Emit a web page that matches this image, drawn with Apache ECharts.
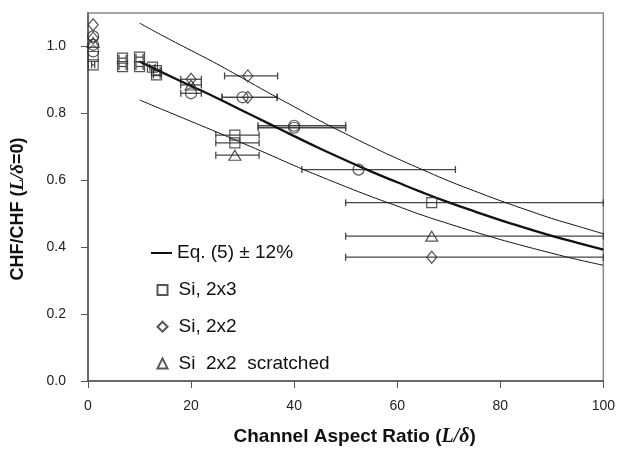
<!DOCTYPE html>
<html>
<head>
<meta charset="utf-8">
<script src="https://cdn.jsdelivr.net/npm/echarts@6/dist/echarts.min.js"></script>
<style>
  html, body { margin: 0; padding: 0; background: #fff; }
  #chart { width: 618px; height: 452px; }
</style>
</head>
<body>
<div id="chart"></div>
<script>
// Eq. (5) prediction and its ±12% band, sampled along L/δ
const curveX     = [10, 15, 20, 25, 30, 35, 40, 45, 50, 55, 60, 65, 70, 75, 80, 85, 90, 95, 100];
const eq5        = [0.955, 0.918, 0.882, 0.846, 0.808, 0.770, 0.732, 0.695, 0.660, 0.626, 0.594, 0.563, 0.534, 0.507, 0.481, 0.457, 0.434, 0.413, 0.393];
const eq5Upper   = [1.070, 1.028, 0.988, 0.948, 0.905, 0.862, 0.820, 0.778, 0.739, 0.701, 0.665, 0.631, 0.598, 0.568, 0.539, 0.512, 0.486, 0.463, 0.440];
const eq5Lower   = [0.840, 0.808, 0.776, 0.744, 0.711, 0.678, 0.644, 0.612, 0.581, 0.551, 0.523, 0.495, 0.470, 0.446, 0.423, 0.402, 0.382, 0.363, 0.346];

// Measurements: [L/δ, CHF ratio, L/δ low, L/δ high]
const si2x3 = [
  [1, 0.970], [1, 0.945, 0.7, 1.3],
  [6.7, 0.965, 6.0, 7.4], [6.7, 0.940, 6.0, 7.4],
  [10, 0.968, 9.3, 10.7], [10, 0.940, 9.3, 10.7],
  [12.5, 0.938, 12.0, 13.0], [13.3, 0.928, 12.7, 14.0], [13.3, 0.915, 12.7, 14.0],
  [28.5, 0.735, 24.8, 33.2], [28.5, 0.712, 24.8, 33.2],
  [66.7, 0.533, 50, 100]
];
const si2x2 = [
  [1, 1.065], [1, 1.025],
  [20, 0.902, 18, 22],
  [31, 0.912, 26.5, 36.8],
  [31, 0.848, 26, 36.7],
  [66.7, 0.370, 50, 100]
];
const si2x2Scratched = [
  [1, 1.012],
  [20, 0.885, 18, 22],
  [28.5, 0.675, 24.8, 33.2],
  [66.7, 0.433, 50, 100]
];
const otherRuns = [
  [1, 1.030], [1, 1.005], [1, 0.985],
  [20, 0.860, 18, 22],
  [30, 0.848, 26, 36.7],
  [40, 0.763, 33, 50], [40, 0.757, 33, 50],
  [52.5, 0.632, 41.5, 71.3]
];

const xTicks = [0, 20, 40, 60, 80, 100];
const yTicks = [0, 0.2, 0.4, 0.6, 0.8, 1.0];

const curveName = 'Eq. (5) ± 12%';
const markerNames = ['Si, 2x3', 'Si, 2x2', 'Si  2x2  scratched'];

const pair = (xs, ys) => xs.map((x, i) => [x, ys[i]]);
const errorRows = [si2x3, si2x2, si2x2Scratched, otherRuns]
  .flat()
  .filter(r => r.length === 4);

const ink = '#2a2a2a';
const markerStyle = { color: 'rgba(0,0,0,0)', borderColor: ink, borderWidth: 1.2 };

function renderErrorBar(params, api) {
  const y = api.value(1);
  const a = api.coord([api.value(2), y]);
  const b = api.coord([api.value(3), y]);
  const cap = 3.5;
  const style = { stroke: '#464646', lineWidth: 1.3 };
  return {
    type: 'group',
    children: [
      { type: 'line', shape: { x1: a[0], y1: a[1], x2: b[0], y2: b[1] }, style },
      { type: 'line', shape: { x1: a[0], y1: a[1] - cap, x2: a[0], y2: a[1] + cap }, style },
      { type: 'line', shape: { x1: b[0], y1: b[1] - cap, x2: b[0], y2: b[1] + cap }, style }
    ]
  };
}

const chart = echarts.init(document.getElementById('chart'), null, { renderer: 'canvas' });

const sans = '"Liberation Sans", Arial, Helvetica, sans-serif';
const serif = '"Liberation Serif", "Times New Roman", serif';
const legendText = { fontFamily: sans, fontSize: 19, color: '#111', lineHeight: 20 };

chart.setOption({
  backgroundColor: '#fff',
  animation: false,
  grid: {
    left: 88, right: 11, top: 13, bottom: 67,
    show: true, borderColor: '#8a8a8a', borderWidth: 1.5
  },
  legend: [
    {
      data: [{ name: curveName, icon: 'rect' }],
      left: 146, top: 238,
      itemWidth: 21, itemHeight: 2,
      itemStyle: { color: '#111', borderWidth: 0 },
      textStyle: legendText,
      selectedMode: false
    },
    {
      data: markerNames,
      orient: 'vertical',
      left: 151.5, top: 275,
      itemWidth: 10, itemHeight: 10, itemGap: 16.7,
      textStyle: Object.assign({ padding: [0, 0, 0, 6] }, legendText),
      selectedMode: false
    }
  ],
  xAxis: {
    type: 'value', min: 0, max: 100, interval: 20,
    name: '{b|Channel Aspect Ratio (}{i|L/δ}{b|)}',
    nameLocation: 'middle', nameGap: 46,
    nameTextStyle: {
      padding: [0, 0, 0, 18],
      rich: {
        b: { fontFamily: sans, fontWeight: 'bold', fontSize: 19, color: '#111' },
        i: { fontFamily: serif, fontWeight: 'bold', fontStyle: 'italic', fontSize: 20, color: '#111' }
      }
    },
    axisLine: { lineStyle: { color: '#555', width: 1.5 } },
    axisTick: { inside: false, length: 7, customValues: xTicks, lineStyle: { color: '#555' } },
    axisLabel: { customValues: xTicks, margin: 18, fontFamily: sans, fontSize: 14, color: '#222' },
    splitLine: { show: false }
  },
  yAxis: {
    type: 'value', min: 0, max: 1.1, interval: 0.2,
    name: '{b|CHF/CHF (}{i|L/δ}{b|=0)}',
    nameLocation: 'middle', nameGap: 60, nameRotate: 90,
    nameTextStyle: {
      padding: [0, 24, 0, 0],
      rich: {
        b: { fontFamily: sans, fontWeight: 'bold', fontSize: 18, color: '#111' },
        i: { fontFamily: serif, fontWeight: 'bold', fontStyle: 'italic', fontSize: 19, color: '#111' }
      }
    },
    axisLine: { lineStyle: { color: '#555', width: 1.5 } },
    axisTick: { inside: false, length: 7, customValues: yTicks, lineStyle: { color: '#555' } },
    axisLabel: {
      customValues: yTicks, margin: 22, fontFamily: sans, fontSize: 14, color: '#222',
      formatter: v => (v > 1.05 ? '' : v.toFixed(1))
    },
    splitLine: { show: false }
  },
  series: [
    {
      name: 'errors', type: 'custom', renderItem: renderErrorBar,
      data: errorRows, encode: { x: [0, 2, 3], y: 1 }, z: 2, silent: true
    },
    {
      name: curveName, type: 'line', data: pair(curveX, eq5), smooth: true,
      symbol: 'none', lineStyle: { color: '#111', width: 2.3 }, itemStyle: { color: '#111' }, z: 3
    },
    {
      name: 'upper', type: 'line', data: pair(curveX, eq5Upper), smooth: true,
      symbol: 'none', lineStyle: { color: '#111', width: 1 }, z: 3
    },
    {
      name: 'lower', type: 'line', data: pair(curveX, eq5Lower), smooth: true,
      symbol: 'none', lineStyle: { color: '#111', width: 1 }, z: 3
    },
    {
      name: markerNames[0], type: 'scatter', symbol: 'rect', symbolSize: 10,
      data: si2x3.map(r => [r[0], r[1]]), itemStyle: markerStyle, z: 4
    },
    {
      name: markerNames[1], type: 'scatter', symbol: 'diamond', symbolSize: [10, 12],
      data: si2x2.map(r => [r[0], r[1]]), itemStyle: markerStyle, z: 4
    },
    {
      name: markerNames[2], type: 'scatter', symbol: 'triangle', symbolSize: [12, 10],
      data: si2x2Scratched.map(r => [r[0], r[1]]), itemStyle: markerStyle, z: 4
    },
    {
      name: 'other', type: 'scatter', symbol: 'circle', symbolSize: 11,
      data: otherRuns.map(r => [r[0], r[1]]), itemStyle: markerStyle, z: 4
    }
  ]
});
</script>
</body>
</html>
